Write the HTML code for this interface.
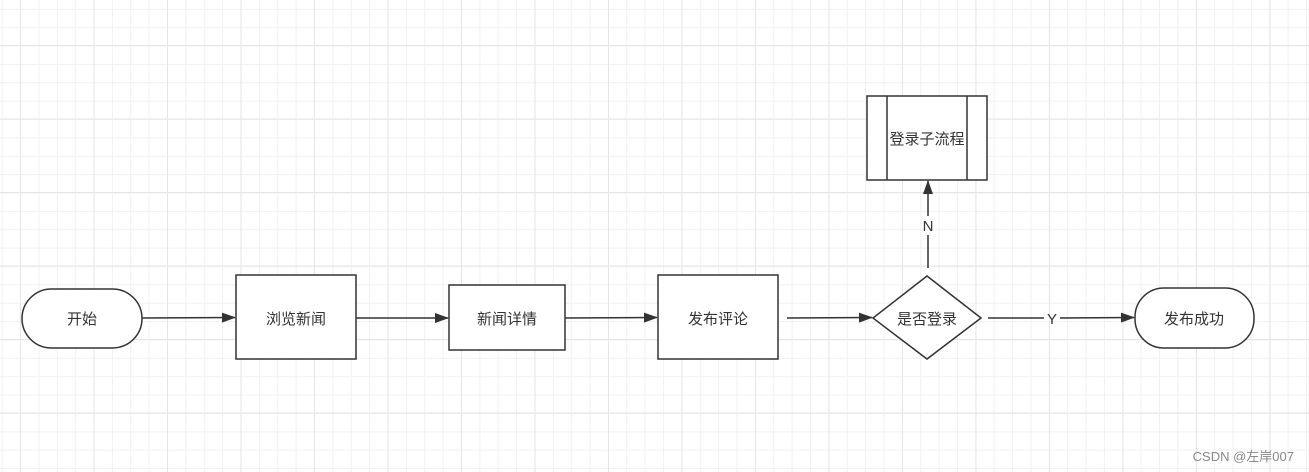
<!DOCTYPE html>
<html><head><meta charset="utf-8"><style>
html,body{margin:0;padding:0;background:#fff;}
svg{display:block;}
text{font-family:"Liberation Sans","Noto Sans CJK SC",sans-serif;}
</style></head><body>
<svg width="1309" height="472" viewBox="0 0 1309 472" xmlns="http://www.w3.org/2000/svg">
<defs>
<pattern id="mn" x="1.7" y="8.8" width="18.37" height="18.37" patternUnits="userSpaceOnUse">
<path d="M0 0H18.37M0 0V18.37" stroke="#f1f1f1" stroke-width="2" fill="none"/>
</pattern>
<pattern id="mj" x="20" y="45" width="73.5" height="73.5" patternUnits="userSpaceOnUse">
<path d="M0 0H73.5M0 0V73.5" stroke="#e6e6e6" stroke-width="2" fill="none"/>
</pattern>
<marker id="ar" markerWidth="14" markerHeight="12" refX="13" refY="6" orient="auto" markerUnits="userSpaceOnUse">
<path d="M0 1L14 6L0 11Z" fill="#333"/>
</marker>
</defs>
<rect width="1309" height="472" fill="url(#mn)"/>
<rect width="1309" height="472" fill="url(#mj)"/>
<g stroke="#333" stroke-width="1.5" fill="none">
<line x1="142" y1="318" x2="235" y2="317.5" marker-end="url(#ar)"/>
<line x1="356" y1="318" x2="448" y2="318" marker-end="url(#ar)"/>
<line x1="565" y1="318" x2="657" y2="317.5" marker-end="url(#ar)"/>
<line x1="787" y1="318" x2="872" y2="317.5" marker-end="url(#ar)"/>
<line x1="928" y1="268" x2="928" y2="235"/>
<line x1="928" y1="216" x2="928" y2="181" marker-end="url(#ar)"/>
<line x1="988" y1="318" x2="1044" y2="318"/>
<line x1="1060" y1="318" x2="1134" y2="317.5" marker-end="url(#ar)"/>
</g>
<g stroke="#333" stroke-width="1.5" fill="#fff">
<rect x="22" y="289" width="120" height="59" rx="29.5"/>
<rect x="236" y="275" width="120" height="84"/>
<rect x="449" y="285" width="116" height="65"/>
<rect x="658" y="275" width="120" height="84"/>
<path d="M927 276L981 318L927 359L873 318Z"/>
<rect x="1135" y="288" width="119" height="60" rx="29"/>
<rect x="867" y="96" width="120" height="84"/>
<line x1="887" y1="96" x2="887" y2="180"/>
<line x1="967" y1="96" x2="967" y2="180"/>
</g>
<g font-size="15" fill="#333" text-anchor="middle">
<text x="82" y="324">开始</text>
<text x="296" y="324">浏览新闻</text>
<text x="507" y="324">新闻详情</text>
<text x="718" y="324">发布评论</text>
<text x="927" y="324">是否登录</text>
<text x="1194" y="324">发布成功</text>
<text x="927" y="144">登录子流程</text>
<text x="928" y="231">N</text>
<text x="1052" y="324">Y</text>
</g>
<text x="1294" y="461" font-size="13" fill="#888" text-anchor="end">CSDN @左岸007</text>
</svg>
</body></html>
